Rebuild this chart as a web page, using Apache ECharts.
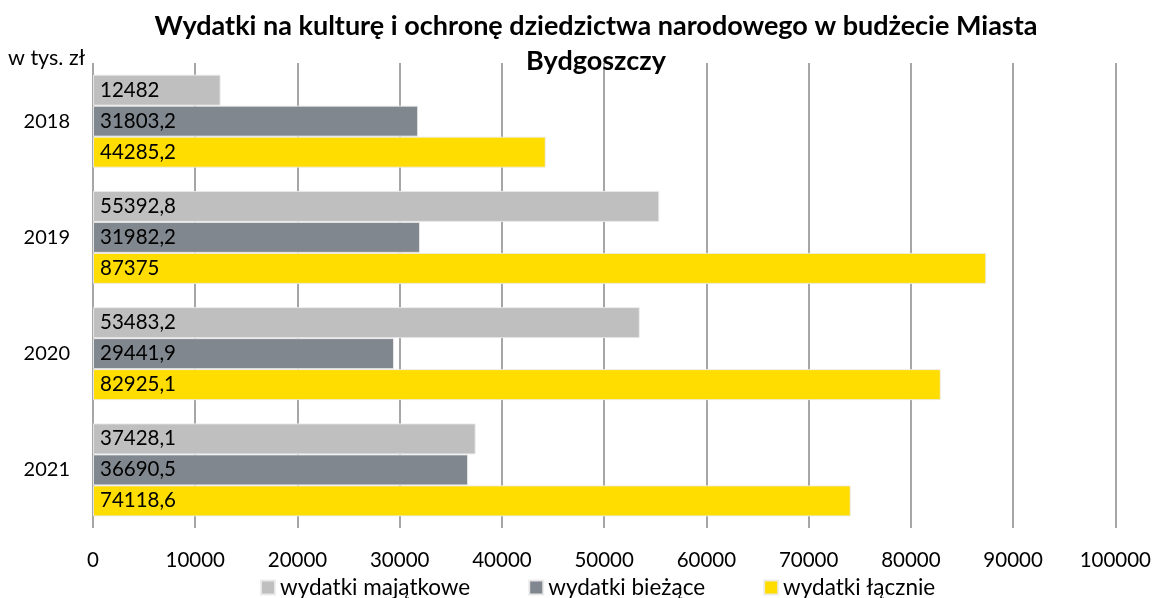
<!DOCTYPE html>
<html><head><meta charset="utf-8">
<script src="https://cdn.jsdelivr.net/npm/echarts@6/dist/echarts.min.js"></script>
<style>html,body{margin:0;padding:0;background:#fff}#c{width:1154px;height:598px}</style>
</head><body><div id="c"></div>
<script>
const categories = ['2018', '2019', '2020', '2021'];
const majatkowe = [12482, 55392.8, 53483.2, 37428.1];
const biezace = [31803.2, 31982.2, 29441.9, 36690.5];
const lacznie = [44285.2, 87375, 82925.1, 74118.6];
const seriesNames = ['wydatki majątkowe', 'wydatki bieżące', 'wydatki łącznie'];
const xTicks = [0, 10000, 20000, 30000, 40000, 50000, 60000, 70000, 80000, 90000, 100000];

const FONT = 'Lato, "Open Sans", sans-serif';
const fmt = v => String(v).replace('.', ',');
function mk(name, data, color) {
  return {
    name, type: 'bar', data,
    barGap: '0%', barCategoryGap: '20%',
    itemStyle: { color, borderColor: 'rgba(235,235,235,0.9)', borderWidth: 1 },
    label: { show: true, position: 'insideLeft', distance: 7, color: '#000',
      fontFamily: FONT, fontSize: 20.5, formatter: p => fmt(p.value) }
  };
}
const chart = echarts.init(document.getElementById('c'), null, { renderer: 'canvas' });
chart.setOption({
  animation: false,
  title: [{
    text: 'Wydatki na kulturę i ochronę dziedzictwa narodowego w budżecie Miasta\nBydgoszczy',
    left: 591, top: 4, textAlign: 'center',
    textStyle: { fontFamily: FONT, fontWeight: 'bold', fontSize: 27, lineHeight: 35, color: '#000' }
  }, {
    text: 'w tys. zł', left: 3, top: 42,
    textStyle: { fontFamily: FONT, fontWeight: 'normal', fontSize: 21.5, color: '#000' }
  }],
  legend: {
    top: 576, left: 260, padding: 0, itemWidth: 14, itemHeight: 14, itemGap: 58,
    icon: 'rect',
    textStyle: { fontFamily: FONT, fontSize: 22.5, color: '#000', padding: [0, 0, 0, 0] },
    data: seriesNames
  },
  grid: { left: 93, right: 38, top: 63, bottom: 70 },
  xAxis: {
    type: 'value', min: 0, max: 100000, interval: 10000,
    axisLine: { show: false }, axisTick: { show: false },
    splitLine: { show: true, lineStyle: { color: '#888', width: 1.5 } },
    axisLabel: { fontFamily: FONT, fontSize: 20.5, color: '#000', margin: 22,
      formatter: v => xTicks.includes(v) ? String(v) : '' }
  },
  yAxis: {
    type: 'category', data: categories, inverse: true,
    axisLine: { show: false }, axisTick: { show: false },
    axisLabel: { fontFamily: FONT, fontSize: 20, color: '#000', margin: 23 }
  },
  series: [
    mk(seriesNames[0], majatkowe, '#BFBFBF'),
    mk(seriesNames[1], biezace, '#80878E'),
    mk(seriesNames[2], lacznie, '#FFDD00')
  ]
});
</script></body></html>
